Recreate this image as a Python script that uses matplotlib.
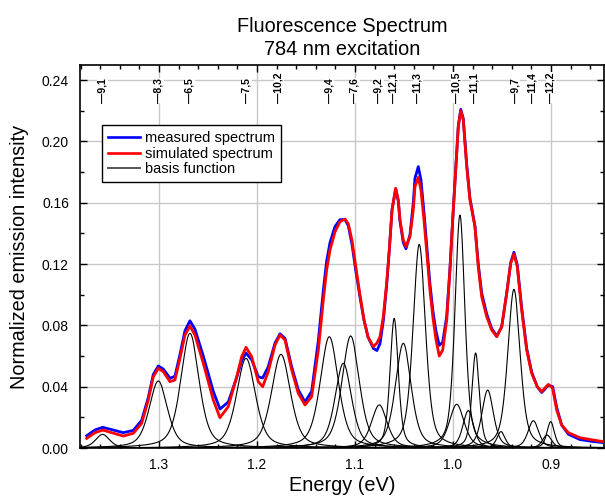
"""
Fluorescence spectrum (784 nm excitation): measured vs. simulated spectrum
with the individual basis functions and (n,m) chirality markers on top.
"""
import numpy as np
import matplotlib
matplotlib.use("Agg")
import matplotlib.pyplot as plt
import matplotlib.ticker as mticker
from matplotlib.transforms import blended_transform_factory

# ─────────────────────────────────────────────────────────────────────────────
# Data
# ─────────────────────────────────────────────────────────────────────────────

# spectra: energy (eV) / normalized intensity
SPEC_ENERGY = [
    1.3738, 1.3653, 1.3574, 1.3483, 1.3364, 1.3262, 1.3177, 1.3109, 1.3058, 1.3007,
    1.2956, 1.2888, 1.2837, 1.2786, 1.2735, 1.2684, 1.2633, 1.2548, 1.2446, 1.2378,
    1.2293, 1.2207, 1.2156, 1.2112, 1.2054, 1.1987, 1.1942, 1.1885, 1.1816, 1.1765,
    1.1714, 1.1646, 1.1579, 1.1510, 1.1442, 1.1374, 1.1323, 1.1289, 1.1255, 1.1204,
    1.1153, 1.1102, 1.1068, 1.1031, 1.0990, 1.0949, 1.0908, 1.0867, 1.0813, 1.0776,
    1.0745, 1.0711, 1.0677, 1.0650, 1.0622, 1.0585, 1.0558, 1.0541, 1.0507, 1.0480,
    1.0439, 1.0405, 1.0388, 1.0354, 1.0327, 1.0296, 1.0265, 1.0235, 1.0204, 1.0173,
    1.0140, 1.0105, 1.0064, 1.0031, 1.0000, 0.9980, 0.9946, 0.9921, 0.9895, 0.9860,
    0.9827, 0.9776, 0.9742, 0.9707, 0.9656, 0.9605, 0.9554, 0.9503, 0.9452, 0.9411,
    0.9378, 0.9344, 0.9299, 0.9248, 0.9197, 0.9140, 0.9095, 0.9061, 0.9027, 0.8983,
    0.8942, 0.8891, 0.8823, 0.8704, 0.8568, 0.8459,
]
SIMULATED = [
    0.0063, 0.0100, 0.0117, 0.0100, 0.0078, 0.0096, 0.0161, 0.0313, 0.0465, 0.0520,
    0.0498, 0.0433, 0.0444, 0.0585, 0.0737, 0.0796, 0.0737, 0.0553, 0.0313, 0.0198,
    0.0270, 0.0465, 0.0596, 0.0657, 0.0596, 0.0433, 0.0400, 0.0498, 0.0672, 0.0737,
    0.0705, 0.0509, 0.0357, 0.0281, 0.0335, 0.0639, 0.0966, 0.1162, 0.1292, 0.1411,
    0.1477, 0.1494, 0.1462, 0.1357, 0.1175, 0.0998, 0.0835, 0.0724, 0.0661, 0.0685,
    0.0726, 0.0857, 0.1075, 0.1292, 0.1553, 0.1695, 0.1618, 0.1488, 0.1357, 0.1314,
    0.1379, 0.1553, 0.1705, 0.1766, 0.1684, 0.1488, 0.1259, 0.1031, 0.0848, 0.0705,
    0.0600, 0.0639, 0.0835, 0.1162, 0.1520, 0.1729, 0.2097, 0.2201, 0.2140, 0.1836,
    0.1618, 0.1444, 0.1183, 0.0987, 0.0857, 0.0770, 0.0726, 0.0792, 0.1009, 0.1205,
    0.1266, 0.1183, 0.0900, 0.0639, 0.0487, 0.0400, 0.0367, 0.0392, 0.0415, 0.0390,
    0.0248, 0.0150, 0.0100, 0.0067, 0.0052, 0.0041,
]
MEASURED = [
    0.0080, 0.0118, 0.0135, 0.0120, 0.0100, 0.0115, 0.0180, 0.0330, 0.0480, 0.0535,
    0.0515, 0.0455, 0.0468, 0.0610, 0.0765, 0.0830, 0.0775, 0.0600, 0.0370, 0.0254,
    0.0300, 0.0460, 0.0570, 0.0620, 0.0575, 0.0465, 0.0457, 0.0530, 0.0685, 0.0745,
    0.0715, 0.0530, 0.0380, 0.0300, 0.0370, 0.0700, 0.1030, 0.1220, 0.1340, 0.1445,
    0.1490, 0.1490, 0.1450, 0.1330, 0.1150, 0.0985, 0.0835, 0.0725, 0.0650, 0.0636,
    0.0680, 0.0830, 0.1060, 0.1290, 0.1555, 0.1690, 0.1610, 0.1480, 0.1340, 0.1300,
    0.1390, 0.1600, 0.1760, 0.1836, 0.1750, 0.1540, 0.1300, 0.1070, 0.0890, 0.0760,
    0.0670, 0.0690, 0.0860, 0.1170, 0.1525, 0.1735, 0.2100, 0.2210, 0.2150, 0.1850,
    0.1630, 0.1450, 0.1200, 0.1010, 0.0875, 0.0780, 0.0730, 0.0790, 0.1010, 0.1210,
    0.1277, 0.1195, 0.0915, 0.0650, 0.0495, 0.0400, 0.0362, 0.0385, 0.0410, 0.0400,
    0.0265, 0.0150, 0.0090, 0.0055, 0.0042, 0.0035,
]

# basis functions: centre (eV), peak height, FWHM (eV)
BASIS_CENTER = [1.3575, 1.3007, 1.2684, 1.2112, 1.1755, 1.1262, 1.1119, 1.1044,
                1.0752, 1.0600, 1.0507, 1.0344, 0.9962, 0.9929, 0.9844, 0.9769,
                0.9646, 0.9510, 0.9378, 0.9180, 0.9040, 0.9003]
BASIS_HEIGHT = [0.0089, 0.0437, 0.0748, 0.0585, 0.0611, 0.0726, 0.0553, 0.0731,
                0.0281, 0.0846, 0.0683, 0.1329, 0.0285, 0.1520, 0.0244, 0.0620,
                0.0378, 0.0107, 0.1035, 0.0178, 0.0085, 0.0172]
BASIS_FWHM   = [0.017, 0.022, 0.022, 0.023, 0.023, 0.022, 0.020, 0.021,
                0.019, 0.010, 0.019, 0.015, 0.018, 0.012, 0.013, 0.009,
                0.014, 0.010, 0.015, 0.013, 0.011, 0.009]
LORENTZ_FRACTION = 0.5

# (n,m) chirality markers along the top
CHIRAL_LABELS = ["9,1", "8,3", "6,5", "7,5", "10,2", "9,4", "7,6", "9,2",
                 "12,1", "11,3", "10,5", "11,1", "9,7", "11,4", "12,2"]
CHIRAL_ENERGY = [1.3574, 1.3000, 1.2684, 1.2105, 1.1776, 1.1265, 1.1000, 1.0755,
                 1.0602, 1.0357, 0.9962, 0.9776, 0.9367, 0.9187, 0.9000]

X_LIM = (1.3806, 0.8459)
Y_LIM = (0.0, 0.2499)


def pseudo_voigt(e, c, h, w, eta):
    lor = 1.0 / (1.0 + ((e - c) / (w / 2.0)) ** 2)
    gau = np.exp(-4.0 * np.log(2.0) * ((e - c) / w) ** 2)
    return h * (eta * lor + (1.0 - eta) * gau)


# ─────────────────────────────────────────────────────────────────────────────
# Plot
# ─────────────────────────────────────────────────────────────────────────────

def plot(path="out.png"):
    plt.rcParams["font.family"] = ["Liberation Sans", "DejaVu Sans"]

    fig = plt.figure(figsize=(6.05, 4.96), dpi=100)
    ax = fig.add_axes([80 / 605, 1 - 448 / 496, 524 / 605, 383 / 496])

    e_grid = np.linspace(min(X_LIM), max(X_LIM), 2000)
    for c, h, w in zip(BASIS_CENTER, BASIS_HEIGHT, BASIS_FWHM):
        ax.plot(e_grid, pseudo_voigt(e_grid, c, h, w, LORENTZ_FRACTION),
                color="black", lw=0.8, zorder=3)

    ax.plot(SPEC_ENERGY, MEASURED, color="#0000ff", lw=2.0, zorder=4,
            solid_joinstyle="round")
    ax.plot(SPEC_ENERGY, SIMULATED, color="#ff0000", lw=2.0, zorder=5,
            solid_joinstyle="round")

    ax.set_xlim(*X_LIM)
    ax.set_ylim(*Y_LIM)
    ax.xaxis.set_major_locator(mticker.MultipleLocator(0.1))
    ax.xaxis.set_minor_locator(mticker.MultipleLocator(0.02))
    ax.yaxis.set_major_locator(mticker.MultipleLocator(0.04))
    ax.yaxis.set_minor_locator(mticker.MultipleLocator(0.02))
    ax.xaxis.set_major_formatter(mticker.FormatStrFormatter("%.1f"))
    ax.yaxis.set_major_formatter(mticker.FormatStrFormatter("%.2f"))
    ax.tick_params(which="both", direction="in", top=True, right=True,
                   width=1.0, labelsize=10)
    ax.tick_params(which="major", length=5)
    ax.tick_params(which="minor", length=3)
    ax.tick_params(axis="x", pad=7)
    ax.tick_params(axis="y", pad=8)
    for sp in ax.spines.values():
        sp.set_linewidth(1.2)

    ax.grid(True, which="major", color="#c8c8c8", lw=1.0, zorder=0)
    ax.set_axisbelow(True)

    ax.set_xlabel("Energy (eV)", fontsize=14.3, labelpad=3)
    ax.set_ylabel("Normalized emission intensity", fontsize=14.3, labelpad=9)
    ax.set_title("Fluorescence Spectrum\n784 nm excitation", fontsize=14.3,
                 pad=7, linespacing=1.3)

    # chirality markers
    trans = blended_transform_factory(ax.transData, ax.transAxes)
    for lbl, e in zip(CHIRAL_LABELS, CHIRAL_ENERGY):
        ax.text(e, 0.9008, "\u2014" + lbl, transform=trans, rotation=90,
                ha="center", va="bottom", fontsize=7.5, fontweight="bold",
                zorder=6,
                bbox=dict(facecolor="white", edgecolor="none", pad=0.3))

    # legend
    handles = [
        plt.Line2D([], [], color="#0000ff", lw=1.9),
        plt.Line2D([], [], color="#ff0000", lw=1.9),
        plt.Line2D([], [], color="#555555", lw=1.4),
    ]
    labels = ["measured spectrum", "simulated spectrum", "basis function"]
    leg = ax.legend(handles, labels, loc="upper left",
                    bbox_to_anchor=(0.0414, 0.843), borderaxespad=0,
                    fontsize=10.5, handlelength=2.2, handletextpad=0.35,
                    labelspacing=0.12, borderpad=0.4, fancybox=False,
                    framealpha=1.0, edgecolor="black")
    leg.get_frame().set_linewidth(1.0)
    leg.set_zorder(10)

    fig.savefig(path, dpi=100)
    plt.close(fig)


def main():
    plot("out.png")


if __name__ == "__main__":
    main()
